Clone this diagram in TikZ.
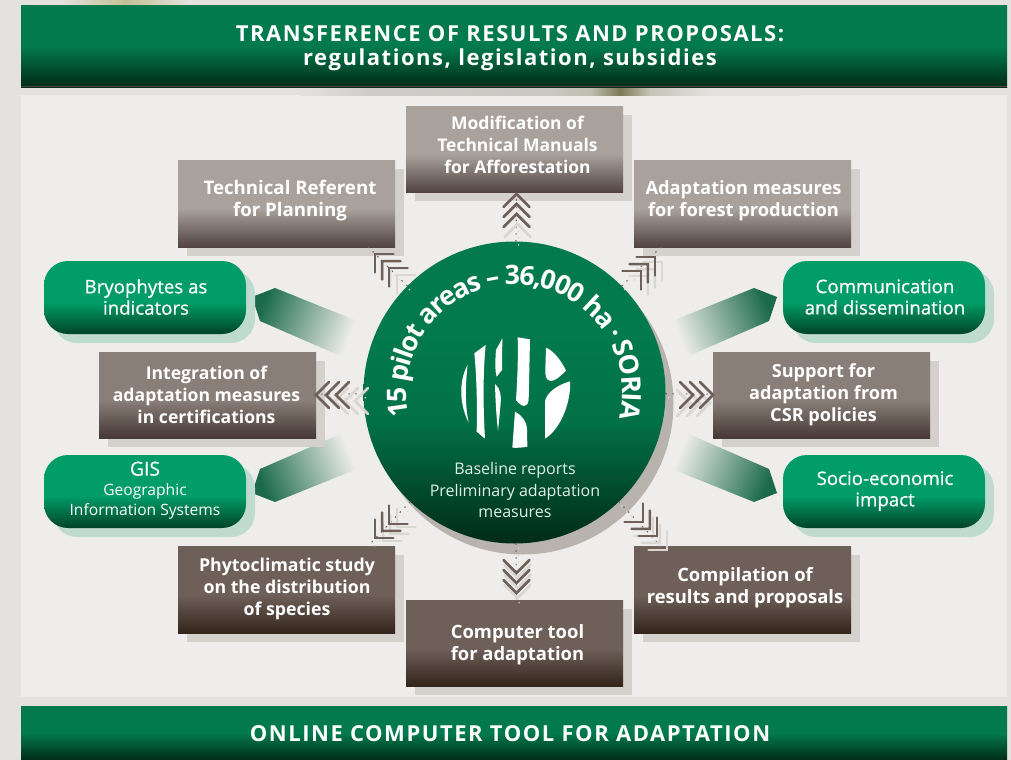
\documentclass[tikz,border=0pt]{standalone}
\usepackage{fontspec}
\setmainfont{Open Sans}
\newfontfamily\bannerfont[LetterSpace=7]{Open Sans}
\newfontfamily\medfont[FakeBold=0.6]{Open Sans}
\usetikzlibrary{decorations.text,shadings}
\definecolor{bgpage}{HTML}{E3E2E0}
\definecolor{panel}{HTML}{EEEDEB}
\definecolor{bantop}{HTML}{027A4E}
\definecolor{banbot}{HTML}{002B17}
\definecolor{grtop}{HTML}{019D68}
\definecolor{grbot}{HTML}{00432A}
\definecolor{grshadow}{HTML}{BFDBD0}
\definecolor{lighttop}{HTML}{A9A19B}
\definecolor{lightbot}{HTML}{524440}
\definecolor{midtop}{HTML}{897E78}
\definecolor{midbot}{HTML}{463834}
\definecolor{darktop}{HTML}{6E6058}
\definecolor{darkbot}{HTML}{33241C}
\definecolor{boxshadow}{HTML}{D4D0CC}
\definecolor{chevdark}{HTML}{6E6058}
\definecolor{chevlight}{HTML}{DAD7D3}
\definecolor{hubshadow}{HTML}{B9B3AE}
\definecolor{armdark}{HTML}{1C6A4E}
\definecolor{smudgeA}{HTML}{CFCDC9}
\definecolor{smudgeB}{HTML}{C9C7C2}
\definecolor{smudgeC}{HTML}{C0BFAF}
\definecolor{smudgeD}{HTML}{7B7B58}
\definecolor{smudgeE}{HTML}{C5C3B5}
\definecolor{olive}{HTML}{C4C095}
\pgfdeclareverticalshading{sbanner}{100bp}{color(0bp)=(banbot); color(25bp)=(banbot); color(50bp)=(bantop); color(100bp)=(bantop)}
\pgfdeclareverticalshading{sgreen}{100bp}{color(0bp)=(grbot); color(25bp)=(grbot); color(47bp)=(grtop); color(100bp)=(grtop)}
\pgfdeclareverticalshading{slight}{100bp}{color(0bp)=(lightbot); color(25bp)=(lightbot); color(47bp)=(lighttop); color(100bp)=(lighttop)}
\pgfdeclareverticalshading{smid}{100bp}{color(0bp)=(midbot); color(25bp)=(midbot); color(47bp)=(midtop); color(100bp)=(midtop)}
\pgfdeclareverticalshading{sdark}{100bp}{color(0bp)=(darkbot); color(25bp)=(darkbot); color(47bp)=(darktop); color(100bp)=(darktop)}
\pgfdeclareverticalshading{shub}{100bp}{color(0bp)=(banbot); color(25bp)=(banbot); color(45bp)=(bantop!88!banbot); color(60bp)=(bantop); color(100bp)=(bantop)}
\pgfdeclareverticalshading{sarm}{100bp}{color(0bp)=(panel); color(31bp)=(panel); color(75bp)=(armdark); color(100bp)=(armdark)}
\pgfdeclarehorizontalshading{ssmudge}{100bp}{color(0bp)=(bgpage); color(25bp)=(bgpage); color(32bp)=(smudgeA); color(50bp)=(smudgeB); color(54bp)=(smudgeC); color(57bp)=(smudgeD); color(60bp)=(smudgeE); color(66bp)=(bgpage); color(100bp)=(bgpage)}
\tikzset{
  boxbase/.style={rectangle,inner sep=0pt,outer sep=0pt},
  greenbox/.style={boxbase,rounded corners=18pt,shading=sgreen},
  lightbox/.style={boxbase,shading=slight},
  midbox/.style={boxbase,shading=smid},
  darkbox/.style={boxbase,shading=sdark},
  boldlabel/.style={align=center,text=white,inner sep=0pt,font=\fontsize{#1}{16.6}\selectfont\bfseries},
  reglabel/.style={align=center,text=white,inner sep=0pt,font=\fontsize{#1}{16}\selectfont\medfont},
  bannertext/.style={align=center,text=white,inner sep=0pt,font=\fontsize{16.5}{18}\selectfont\bannerfont\bfseries},
  chevline/.style={line width=1.9pt,chevdark,line cap=round,line join=miter},
  chevghost/.style={line width=1.9pt,chevlight,line cap=round,line join=miter},
  dotline/.style={line width=.8pt,chevdark,dash pattern=on 1.1pt off 4pt},
  dotghost/.style={line width=.8pt,chevlight,dash pattern=on 1.1pt off 4pt},
  armshade/.style={shading=sarm}
}
\newcommand\ibox[9]{%
  \pgfmathsetmacro\icx{(#2+#4)/2}%
  \pgfmathsetmacro\icy{(#3+#5)/2}%
  \pgfmathsetmacro\iw{(#4-#2)*.75}%
  \pgfmathsetmacro\ih{(#5-#3)*.75}%
  \node[#6,minimum width=\iw pt,minimum height=\ih pt] (#1) at (\icx,\icy) {};
  \node[#7] (#1-t) at (\icx,#8) {#9};
}
\newcommand\ishadow[5]{\fill[#1] (#2+9,#3+9) rectangle (#4+9,#5+9);}
\newcommand\chevs[5]{%
  \foreach \d in {0,10,20}{%
    \begin{scope}[shift={(#1+#4,#2+#5)},rotate=#3]
      \draw[chevghost] (-\d-13,13) -- (-\d,0) -- (-\d-13,-13);
    \end{scope}}%
  \foreach \d in {0,10,20}{%
    \begin{scope}[shift={(#1,#2)},rotate=#3]
      \draw[chevline] (-\d-13,13) -- (-\d,0) -- (-\d-13,-13);
    \end{scope}}%
}
\begin{document}
\begin{tikzpicture}[x=.75pt,y=-.75pt]
\useasboundingbox (0,0) rectangle (1011,760);
\fill[bgpage] (0,0) rectangle (1011,760);
\shade[left color=bgpage,right color=bgpage,middle color=olive] (60,0) rectangle (190,5);
\fill[panel] (21,95) rectangle (1007,697);
\shade[shading=ssmudge] (300,87) rectangle (800,95);
\node[boxbase,shading=sbanner,minimum width=739.5pt,minimum height=61.5pt] (topbanner) at (514,46) {};
\fill[lightbot] (21,86.3) rectangle (1007,87.3);
\node[bannertext] (topbanner-t) at (510,48) {TRANSFERENCE OF RESULTS AND PROPOSALS:\\regulations, legislation, subsidies};
\node[boxbase,shading=sbanner,minimum width=739.5pt,minimum height=40.5pt] (bottombanner) at (514,733) {};
\node[bannertext] (bottombanner-t) at (510,734) {ONLINE COMPUTER TOOL FOR ADAPTATION};
\shade[armshade,shading angle=68] (252,297) -- (275,288) -- (372,327) -- (345,358) -- (260,321) -- cycle;
\shade[armshade,shading angle=-68] (777,297) -- (754,288) -- (657,327) -- (684,358) -- (769,321) -- cycle;
\shade[armshade,shading angle=112] (252,493) -- (275,502) -- (372,463) -- (345,432) -- (260,469) -- cycle;
\shade[armshade,shading angle=-112] (777,493) -- (754,502) -- (657,463) -- (684,432) -- (769,469) -- cycle;
\ishadow{boxshadow}{406}{106}{623}{192}
\ishadow{boxshadow}{178}{160}{395}{247}
\ishadow{boxshadow}{634}{160}{851}{247}
\ishadow{boxshadow}{99}{352}{316}{438}
\ishadow{boxshadow}{713}{352}{930}{438}
\ishadow{boxshadow}{178}{546}{395}{633}
\ishadow{boxshadow}{634}{546}{851}{633}
\ishadow{boxshadow}{406}{600}{623}{686}
\foreach \a/\b in {44/261,783/261,44/455,783/455}{
  \fill[grshadow,rounded corners=18pt] (\a+9,\b+9) rectangle (\a+211,\b+82);
}
\fill[hubshadow] (522.5,403.5) circle[radius=113.25pt];
\node[circle,inner sep=0pt,outer sep=0pt,minimum size=226.5pt,shading=shub] (hub) at (514.5,392.5) {};
\path[postaction={decorate,decoration={text along path,text align=center,
   text={|\fontsize{20}{24}\selectfont\bfseries\color{white}\kern-1pt|15 pilot areas – 36,000 ha · SORIA}}}]
   (hub.center) ++(200:81pt) arc[start angle=200,end angle=-22,radius=81pt];
\node[align=center,text=white!88!bantop,inner sep=0pt,font=\fontsize{12}{15.8}\selectfont] (hub-t) at (515,490) {Baseline reports\\Preliminary adaptation\\measures};
\begin{scope}[shift={(340,180)},x=.25pt,y=-.25pt,white]
\fill (383,555) .. controls (362,590) and (352,660) .. (386,728) .. controls (375,680) and (376,610) .. (383,555) -- cycle;
\fill (403,520) -- (437,495) .. controls (428,590) and (430,690) .. (435,776) -- (410,755) .. controls (412,680) and (410,590) .. (403,520) -- cycle;
\fill (468,510) -- (487,475) -- (486,570) -- (470,590) .. controls (464,570) and (466,535) .. (468,510) -- cycle;
\fill (465,612) .. controls (482,625) and (484,650) .. (482,670) -- (474,752) .. controls (468,700) and (466,650) .. (465,612) -- cycle;
\fill (533,472) -- (570,478) -- (566,660) .. controls (562,685) and (545,682) .. (528,660) .. controls (532,600) and (535,530) .. (533,472) -- cycle;
\fill (525,695) .. controls (545,705) and (560,725) .. (561,745) -- (562,800) .. controls (548,803) and (530,804) .. (517,803) -- cycle;
\fill (618,503) .. controls (645,515) and (665,545) .. (678,572) .. controls (660,590) and (645,603) .. (632,603) .. controls (618,600) and (616,590) .. (616,570) -- cycle;
\fill (690,604) .. controls (694,660) and (665,745) .. (615,776) -- (615,665) .. controls (618,640) and (650,615) .. (690,604) -- cycle;
\end{scope}
\ibox{manuals}{406}{106}{623}{192}{lightbox}{boldlabel=13.1,xshift=2.25pt}{145}{Modification of\\Technical Manuals\\for Afforestation}
\ibox{planning}{178}{160}{395}{247}{lightbox}{boldlabel=14,xshift=2.6pt}{201}{Technical Referent\\for Planning}
\ibox{production}{634}{160}{851}{247}{lightbox}{boldlabel=13.7,xshift=.75pt}{201}{Adaptation measures\\for forest production}
\ibox{certs}{99}{352}{316}{438}{midbox}{boldlabel=13.2,xshift=-.75pt}{394.5}{Integration of\\adaptation measures\\in certifications}
\ibox{csr}{713}{352}{930}{438}{midbox}{boldlabel=13.6,xshift=1.5pt}{395}{Support for\\adaptation from\\CSR policies}
\ibox{phyto}{178}{546}{395}{633}{darkbox}{boldlabel=13.3,xshift=.4pt}{589}{Phytoclimatic study\\on the distribution\\of species}
\ibox{results}{634}{546}{851}{633}{darkbox}{boldlabel=13.8,xshift=1.9pt}{588}{Compilation of\\results and proposals}
\ibox{tool}{406}{600}{623}{686}{darkbox}{boldlabel=13.8,xshift=2.25pt}{645}{Computer tool\\for adaptation}
\ibox{bryo}{44}{261}{246}{334}{greenbox}{reglabel=14,xshift=.75pt}{297}{Bryophytes as\\indicators}
\ibox{comm}{783}{261}{985}{334}{greenbox}{reglabel=14,xshift=.75pt}{297}{Communication\\and dissemination}
\ibox{gis}{44}{455}{246}{528}{greenbox}{align=center,text=white,inner sep=0pt,font=\fontsize{11.7}{15}\selectfont}{490.5}{{\fontsize{14.5}{15}\selectfont\medfont GIS}\\Geographic\\Information Systems}
\ibox{socio}{783}{455}{985}{528}{greenbox}{reglabel=14,xshift=.75pt}{491}{Socio-economic\\impact}
\coordinate (cTop) at (516.5,192);
\coordinate (cBot) at (516.5,600);
\coordinate (cTL) at (368,247);
\coordinate (cTR) at (661,247);
\coordinate (cBL) at (368,546);
\coordinate (cBR) at (661,546);
\foreach \t in {cTop,cBot,certs,csr,cTL,cTR,cBL,cBR}{
  \draw[dotghost,transform canvas={xshift=2pt,yshift=-3pt}] (hub) -- (\t);
}
\foreach \t in {cTop,cBot,certs,csr,cTL,cTR,cBL,cBR}{
  \draw[dotline] (hub) -- (\t);
}
\chevs{516.5}{194}{90}{1}{10}
\chevs{516.5}{593}{-90}{1}{5}
\chevs{316}{395}{180}{19}{6}
\chevs{713}{395}{0}{-3}{8}
\chevs{375}{254}{135}{8}{7}
\chevs{655}{257}{45}{7}{5}
\chevs{375}{538}{225}{8}{3}
\chevs{657}{536}{-45}{10}{14}
\end{tikzpicture}
\end{document}
